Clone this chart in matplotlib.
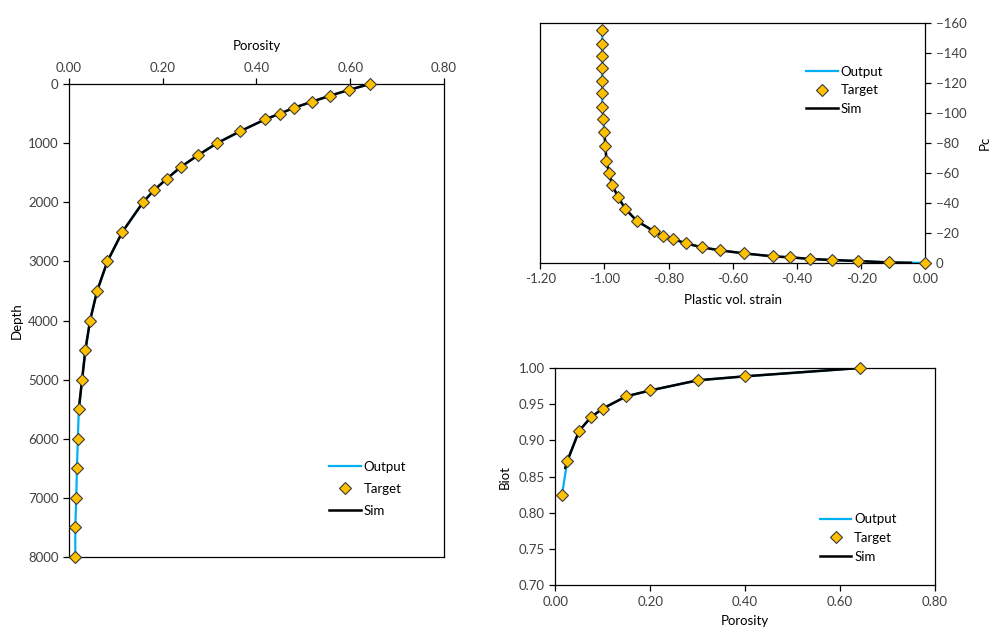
import matplotlib
matplotlib.use("Agg")
import matplotlib.pyplot as plt

plt.rcParams['font.family'] = ['Lato', 'DejaVu Sans']
plt.rcParams['font.size'] = 9.5

# depth vs porosity
depth = [0, 100, 200, 300, 400, 500, 600, 800, 1000, 1200, 1400, 1600, 1800, 2000,
         2500, 3000, 3500, 4000, 4500, 5000, 5500, 6000, 6500, 7000, 7500, 8000]
poro = [0.642, 0.597, 0.556, 0.518, 0.481, 0.450, 0.418, 0.365, 0.316, 0.276, 0.239,
        0.209, 0.181, 0.158, 0.114, 0.082, 0.060, 0.045, 0.035, 0.028, 0.021, 0.019,
        0.017, 0.0156, 0.0135, 0.0135]
sim_depth = depth[:21]
sim_poro = poro[:21]

# Pc vs plastic vol. strain
strain = [-1.007, -1.007, -1.007, -1.007, -1.007, -1.007, -1.007, -1.004, -1.0005,
          -0.997, -0.994, -0.986, -0.976, -0.958, -0.935, -0.899, -0.845, -0.817,
          -0.787, -0.745, -0.695, -0.639, -0.564, -0.474, -0.421, -0.358, -0.291,
          -0.209, -0.113, 0.0]
pc = [-155, -146, -138, -130, -121, -113, -104, -96, -87, -78, -68, -60, -52, -44,
      -36, -28, -21, -18, -16, -13, -10.4, -8.4, -6.4, -4.4, -3.8, -2.7, -2.0, -1.3,
      -0.4, 0.0]
sim_strain = strain[8:29] + [-0.045]
sim_pc = pc[8:29] + [-0.15]

# Biot vs porosity
b_poro = [0.014, 0.025, 0.05, 0.075, 0.10, 0.15, 0.20, 0.30, 0.40, 0.642]
biot = [0.824, 0.871, 0.913, 0.932, 0.944, 0.961, 0.969, 0.983, 0.9885, 1.0]
sim_b_poro = [0.021] + b_poro[1:]
sim_biot = [0.862] + biot[1:]

blue = '#00B0F0'
gold = '#FFC000'


def draw(ax, x, y, sx, sy):
    ax.plot(x, y, color=blue, lw=1.6, label='Output', zorder=2)
    ax.plot(x, y, ls='none', marker='D', ms=6, mfc=gold, mec='#3a3a3a', mew=0.8,
            label='Target', zorder=4, clip_on=False)
    ax.plot(sx, sy, color='black', lw=1.8, label='Sim', zorder=3)
    for s in ax.spines.values():
        s.set_linewidth(0.9)
    ax.tick_params(direction='out', length=4, width=0.9, colors='black',
                   labelcolor='#404040')


fig = plt.figure(figsize=(9.98, 6.35), dpi=100)

ax1 = fig.add_axes([0.0691, 0.1228, 0.3758, 0.7449])
draw(ax1, poro, depth, sim_poro, sim_depth)
ax1.set_xlim(0, 0.8)
ax1.set_ylim(8000, 0)
ax1.set_xticks([0, 0.2, 0.4, 0.6, 0.8])
ax1.set_xticklabels(['0.00', '0.20', '0.40', '0.60', '0.80'])
ax1.set_yticks(range(0, 8001, 1000))
ax1.xaxis.tick_top()
ax1.xaxis.set_label_position('top')
ax1.set_xlabel('Porosity', labelpad=8)
ax1.set_ylabel('Depth', labelpad=4)
ax1.legend(loc='lower right', bbox_to_anchor=(0.93, 0.06), frameon=False,
           handlelength=2.4, handletextpad=0.2, labelspacing=0.75, fontsize=9.5)

ax2 = fig.add_axes([0.5414, 0.5858, 0.3858, 0.3785])
draw(ax2, strain, pc, sim_strain, sim_pc)
ax2.set_xlim(-1.2, 0)
ax2.set_ylim(0, -160)
ax2.set_xticks([-1.2, -1.0, -0.8, -0.6, -0.4, -0.2, 0.0])
ax2.set_xticklabels(['-1.20', '-1.00', '-0.80', '-0.60', '-0.40', '-0.20', '0.00'])
ax2.set_yticks(range(0, -161, -20))
ax2.yaxis.tick_right()
ax2.yaxis.set_label_position('right')
ax2.set_xlabel('Plastic vol. strain', labelpad=6)
ax2.set_ylabel('Pc', labelpad=9)
ax2.legend(loc='upper left', bbox_to_anchor=(0.66, 0.87), frameon=False,
           handlelength=2.4, handletextpad=0.2, labelspacing=0.5, fontsize=9.5)

ax3 = fig.add_axes([0.5564, 0.0783, 0.3805, 0.3422])
draw(ax3, b_poro, biot, sim_b_poro, sim_biot)
ax3.set_xlim(0, 0.8)
ax3.set_ylim(0.7, 1.0)
ax3.set_xticks([0, 0.2, 0.4, 0.6, 0.8])
ax3.set_xticklabels(['0.00', '0.20', '0.40', '0.60', '0.80'])
ax3.set_yticks([0.7, 0.75, 0.8, 0.85, 0.9, 0.95, 1.0])
ax3.set_yticklabels(['0.70', '0.75', '0.80', '0.85', '0.90', '0.95', '1.00'])
ax3.set_xlabel('Porosity', labelpad=5)
ax3.set_ylabel('Biot', labelpad=6)
ax3.legend(loc='lower right', bbox_to_anchor=(0.93, 0.05), frameon=False,
           handlelength=2.4, handletextpad=0.2, labelspacing=0.5, fontsize=9.5)

fig.savefig('out.png', dpi=100)
